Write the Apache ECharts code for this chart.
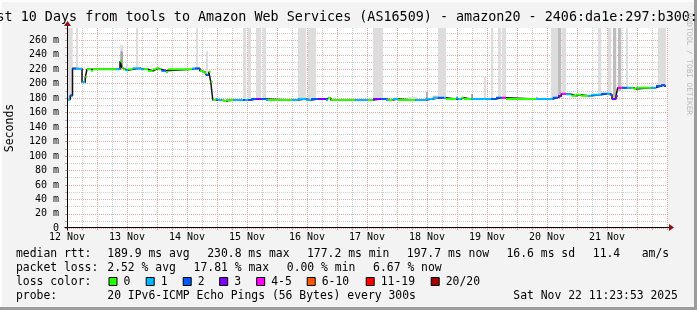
<!DOCTYPE html>
<html><head><meta charset="utf-8">
<script src="https://cdn.jsdelivr.net/npm/echarts@6/dist/echarts.min.js"></script>
<style>html,body{margin:0;padding:0;background:#f3f3f3}#c{width:697px;height:310px}</style>
</head><body><div id="c"></div><script>
// ---------- data ----------
const titleText = 'st 10 Days from tools to Amazon Web Services (AS16509) - amazon20 - 2406:da1e:297:b300::';
const dayLabels = ['12 Nov','13 Nov','14 Nov','15 Nov','16 Nov','17 Nov','18 Nov','19 Nov','20 Nov','21 Nov'];
const yMax = 277;            // ms, top of plot
const xMax = 240;            // hours shown (10 days)
const lossLabels = ['0','1','2','3','4-5','6-10','11-19','20/20'];
const lossColors = ['#26ff00','#00b8ff','#0059ff','#7e00ff','#ff00ff','#ff5500','#ff0000','#a10000'];

// median rtt segments: start hour, value (ms), loss class
const segStart = [0.0,1.3,2.2,3.6,6.0,7.3,8.0,9.6,10.4,19.6,21.2,22.0,22.4,23.3,24.4,26.3,29.6,30.7,32.4,34.3,35.7,36.7,37.7,39.6,40.4,50.0,51.3,53.2,54.0,55.1,55.7,56.7,57.5,58.3,59.6,60.4,62.0,62.4,63.6,66.7,70.4,71.3,72.4,73.7,75.6,77.7,79.6,80.4,90.0,92.4,95.6,97.7,100.4,103.6,104.4,105.5,115.3,120.4,122.4,125.7,127.6,128.4,130.3,132.4,139.3,143.6,146.3,148.4,150.7,151.6,155.6,156.4,157.7,158.7,161.7,169.7,171.6,174.0,175.6,187.6,194.3,196.4,197.7,199.6,201.7,203.6,205.6,208.4,209.7,213.7,216.0,217.1,218.0,219.6,220.3,222.0,224.0,225.7,226.7,227.6,233.7,235.6,237.7,238.7];
const segValue = [178,183.5,221,220.5,202,208.8,220,218,220,220,231,222,220,218.4,220,221.2,220,220,217.5,220,221.2,220,218,216.1,220,221,221,217.6,216.6,214.7,212,216.6,202.8,177.4,178.8,177.4,177.4,176,177.4,177.4,177.4,177.4,177.4,178.8,178.8,178.8,177.4,177.4,177.4,178.8,177.4,178.8,178.8,177.4,180.2,177.4,177.4,177.4,178.8,178.8,177.4,177.4,178.8,177.4,177.4,178.8,180.2,180.7,180.7,178.8,180.7,178.8,180.7,178.8,178.8,178.8,180.7,180.7,178.8,178.8,180.7,183,186.2,185.3,183.4,184.8,183.4,183.4,184.8,186.2,186.2,184.8,178.8,183,194.5,194.5,194.5,194.5,192.6,194.5,194.5,196.8,198.2,196.8];
const segLoss = [1,2,2,1,1,0,0,0,0,1,0,0,0,1,0,1,1,0,0,0,0,0,2,0,0,1,2,0,0,0,2,0,0,0,1,1,0,0,0,1,2,1,2,2,3,2,1,0,1,1,1,2,3,1,0,0,1,0,3,2,1,0,1,0,1,1,1,2,1,0,1,1,0,0,1,2,2,4,0,1,2,3,4,1,0,0,0,1,1,2,1,2,3,3,4,2,1,0,0,0,1,2,2,2];
const dataEnd = 239.6;

// smoke: start hour, end hour, low ms, high ms (null = above the plot), density level
const smokeStart = [0.0,3.6,21.3,21.3,23.6,27.6,51.6,55.6,70.4,72.3,75.6,78.3,92.4,96.4,122.4,136.7,143.6,146.3,148.4,161.7,166.7,169.6,172.4,174.1,187.6,193.6,196.4,198.0,212.4,216.4,218.4,220.4,223.6,236.4];
const smokeEnd   = [2.3,4.4,22.4,22.4,24.3,28.4,52.4,56.4,71.7,73.6,77.7,79.6,95.7,99.6,126.4,140.0,144.3,148.4,151.6,162.4,167.6,170.5,173.7,175.6,188.3,196.4,197.7,199.6,213.7,217.7,219.7,221.7,224.4,239.6];
const smokeLow   = [180,220,245,222,220,221,221,214,177,177,178,177,178,178,178,177,178,179,180,178,178,178,180,180,178,180,182,185,184,185,180,190,194,196];
const smokeHigh  = [null,null,253.5,245,227,null,null,245,null,null,null,null,null,null,null,181.5,189,183.4,null,185.8,209.7,null,null,null,182,null,null,null,null,null,null,null,null,null];
const smokeLevel = [0,0,0,2,0,0,0,0,0,0,0,0,0,0,0,0,2,1,0,3,0,0,0,0,1,0,1,0,0,0,1,1,0,0];

const rttLabel = 'median rtt:';
const rttStats = ['189.9 ms avg','230.8 ms max','177.2 ms min','197.7 ms now','16.6 ms sd','11.4','am/s'];
const lossLabel = 'packet loss:';
const lossStats = ['2.52 % avg','17.81 % max','0.00 % min','6.67 % now'];
const probeText = '20 IPv6-ICMP Echo Pings (56 Bytes) every 300s';
const dateText = 'Sat Nov 22 11:23:53 2025';

// ---------- styles / layout ----------
const MONO = '"DejaVu Sans Mono", monospace';
const smokeColors = ['#dddddd','#bdbdbd','#a8a8a8','#999999'];
const majorGrid = '#eaa9a9', minorGrid = '#cfcfcf';

const segData = segStart.map((s,i)=>[s, i+1<segStart.length?segStart[i+1]:dataEnd, segValue[i], segLoss[i]]);
const stepData = segStart.map((s,i)=>[s, segValue[i]]).concat([[dataEnd, segValue[segValue.length-1]]]);
const smokeData = smokeStart.map((s,i)=>[s, smokeEnd[i], smokeLow[i], smokeHigh[i]==null?yMax:smokeHigh[i], smokeLevel[i]]);

const chart = echarts.init(document.getElementById('c'), null, {renderer:'canvas'});
const option = {
  animation:false,
  backgroundColor:'#f3f3f3',
  grid:{left:67, top:28, width:600, height:200.3, show:true, backgroundColor:'#ffffff', borderWidth:0},
  xAxis:{type:'value', min:0, max:xMax, interval:6,
    axisLine:{show:false},
    axisTick:{show:true, length:2, lineStyle:{color:'#d9a0a0'}},
    axisLabel:{margin:4, color:'#000', fontFamily:MONO, fontSize:10,
      formatter:v=> (v%24===0 && v<xMax) ? dayLabels[v/24] : ''},
    splitLine:{show:true, lineStyle:{color:[majorGrid, minorGrid], type:[1,1], width:1}}},
  yAxis:{type:'value', min:0, max:yMax, interval:10,
    axisLine:{show:false},
    axisTick:{show:true, length:2, lineStyle:{color:'#d9a0a0'}},
    axisLabel:{margin:8, color:'#000', fontFamily:MONO, fontSize:10,
      formatter:v=> v===0 ? '0' : (v%20===0 ? v+' m' : '')},
    splitLine:{show:true, showMaxLine:false, lineStyle:{color:[majorGrid, minorGrid], type:[1,1], width:1}}},
  series:[
    {type:'custom', z:2, clip:true, encode:{x:[0,1], y:[2,3]}, data:smokeData,
      renderItem:(p,api)=>{
        const a=api.coord([api.value(0), api.value(3)]), b=api.coord([api.value(1), api.value(2)]);
        return {type:'rect', shape:{x:a[0], y:a[1], width:b[0]-a[0], height:b[1]-a[1]}, style:{fill:smokeColors[api.value(4)]}};
      }},
    {type:'line', z:3, data:stepData, step:'end', symbol:'none', lineStyle:{color:'#111', width:1.5}},
    {type:'custom', z:4, clip:true, encode:{x:[0,1], y:2}, data:segData,
      renderItem:(p,api)=>{
        const a=api.coord([api.value(0), api.value(2)]), b=api.coord([api.value(1), api.value(2)]);
        return {type:'rect', shape:{x:a[0], y:a[1]-1, width:b[0]-a[0], height:2}, style:{fill:lossColors[api.value(3)]}};
      }}
  ]
};
chart.setOption(option);

// axes with arrows, legend texts, frame
const o = chart.convertToPixel({gridIndex:0}, [0,0]);
const xe = chart.convertToPixel({gridIndex:0}, [xMax,0]);
const ye = chart.convertToPixel({gridIndex:0}, [0,yMax]);
const ox = Math.round(o[0])+0.5, oy = Math.round(o[1])-0.5;
const g = [];
g.push({type:'rect', shape:{x:0,y:0,width:697,height:2}, style:{fill:'#fdfdfd'}, z:1});
g.push({type:'rect', shape:{x:0,y:0,width:2,height:310}, style:{fill:'#fdfdfd'}, z:1});
g.push({type:'rect', shape:{x:0,y:307,width:697,height:3}, style:{fill:'#9c9c9c'}, z:1});
g.push({type:'rect', shape:{x:694,y:0,width:3,height:310}, style:{fill:'#9c9c9c'}, z:1});
g.push({type:'line', shape:{x1:ox-3, y1:oy, x2:xe[0]+5, y2:oy}, style:{stroke:'#000', lineWidth:1}, z:10});
g.push({type:'line', shape:{x1:ox, y1:oy+3, x2:ox, y2:ye[1]-5}, style:{stroke:'#000', lineWidth:1}, z:10});
g.push({type:'polygon', shape:{points:[[xe[0]+2,oy-3.5],[xe[0]+7,oy],[xe[0]+2,oy+3.5]]}, style:{fill:'#8b1010'}, z:11});
g.push({type:'polygon', shape:{points:[[ox-3.5,ye[1]-2],[ox,ye[1]-7],[ox+3.5,ye[1]-2]]}, style:{fill:'#8b1010'}, z:11});
g.push({type:'text', x:-3.5, y:18, style:{text:titleText, font:'13.4px '+MONO, fill:'#000', verticalAlign:'middle'}, z:10});
g.push({type:'text', x:10.5, y:128, rotation:Math.PI/2, style:{text:'Seconds', font:'11.5px '+MONO, fill:'#000', align:'center', verticalAlign:'middle'}, z:10});
g.push({type:'text', x:688.5, y:64, rotation:-Math.PI/2, style:{text:'RRDTOOL / TOBI OETIKER', font:'7.7px '+MONO, fill:'#b8b8b8', align:'center', verticalAlign:'middle'}, z:10});
const LF = '11.4px '+MONO;
const txt=(s,x,y)=>g.push({type:'text', x:x, y:y, style:{text:s, font:LF, fill:'#000', verticalAlign:'middle'}, z:10});
const y1=254.3, y2=267.7, y3=281.7, y4=296;
txt(rttLabel,16,y1);
[107.3,207.2,307,406.8,506.5,592.8,641.7].forEach((x,i)=>txt(rttStats[i],x,y1));
txt(lossLabel,16,y2);
[107.3,193.6,286.8,373.1].forEach((x,i)=>txt(lossStats[i],x,y2));
txt('loss color:',16,y3);
const swX=[108.5,145.7,182.7,219.2,256.2,306.7,365.7,430.7];
lossLabels.forEach((l,i)=>{
  g.push({type:'rect', shape:{x:swX[i]+0.5,y:277.5,width:8,height:8}, style:{fill:lossColors[i], stroke:'#000', lineWidth:1}, z:10});
  txt(l, swX[i]+15, y3);
});
txt('probe:',16,y4);
txt(probeText,107.3,y4);
txt(dateText,513.3,y4);
chart.setOption({graphic:g});
</script></body></html>
